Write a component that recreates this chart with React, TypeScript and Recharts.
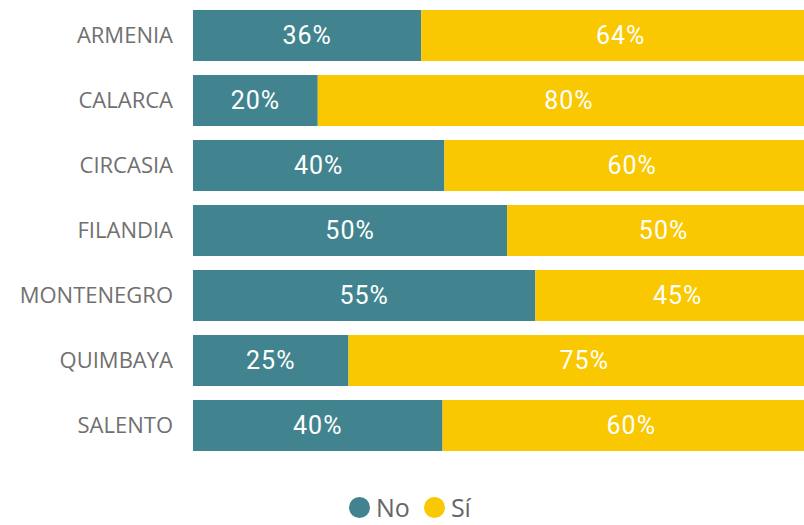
import React from "react";
import { BarChart, Bar, XAxis, YAxis, Legend, LabelList } from "recharts";

const categories = ["ARMENIA", "CALARCA", "CIRCASIA", "FILANDIA", "MONTENEGRO", "QUIMBAYA", "SALENTO"];
const noValues = [36.4, 19.9, 40.1, 50.1, 54.6, 24.8, 39.8];
const siValues = [63.6, 80.1, 59.9, 49.9, 45.4, 75.2, 60.2];
const seriesNames = ["No", "Sí"];
const seriesColors = ["#41848F", "#F9C800"];

const data = categories.map((c, i) => ({ name: c, no: noValues[i], si: siValues[i] }));

const fmt = (v: any) => `${Math.round(Number(v))}%`;

const LegendContent = () => (
  <div style={{ display: "flex", alignItems: "center", paddingLeft: 349, height: 26 }}>
    {seriesNames.map((n, i) => (
      <div key={n} style={{ display: "flex", alignItems: "center", marginRight: 14 }}>
        <span
          style={{
            display: "inline-block",
            width: 21,
            height: 21,
            borderRadius: "50%",
            background: seriesColors[i],
            marginRight: 6,
          }}
        />
        <span style={{ fontFamily: "'Open Sans', sans-serif", fontSize: 25, color: "#666", lineHeight: "26px" }}>{n}</span>
      </div>
    ))}
  </div>
);

export default function App() {
  return (
    <div style={{ position: "absolute", left: 0, top: 0, width: 804, height: 525, overflow: "hidden", background: "#fff" }}>
      <BarChart
        width={830}
        height={525}
        data={data}
        layout="vertical"
        margin={{ top: 3, right: 10, bottom: 41, left: 0 }}
        barSize={51}
      >
        <XAxis type="number" domain={[0, 100]} hide />
        <YAxis
          type="category"
          dataKey="name"
          width={193}
          axisLine={false}
          tickLine={false}
          tickSize={18}
          tick={{ fill: "#707070", fontSize: 22, fontFamily: "'Open Sans', sans-serif" }}
        />
        <Legend
          verticalAlign="bottom"
          content={<LegendContent />}
          wrapperStyle={{ left: 0, top: 494, width: 804, bottom: "auto" }}
        />
        <Bar dataKey="no" name="No" stackId="a" fill={seriesColors[0]} isAnimationActive={false}>
          <LabelList
            dataKey="no"
            position="center"
            formatter={fmt}
            fill="#fff"
            style={{ fontSize: 25, fontFamily: "Roboto, sans-serif", letterSpacing: 1 }}
          />
        </Bar>
        <Bar dataKey="si" name="Sí" stackId="a" fill={seriesColors[1]} isAnimationActive={false}>
          <LabelList
            dataKey="si"
            position="center"
            formatter={fmt}
            fill="#fff"
            style={{ fontSize: 25, fontFamily: "Roboto, sans-serif", letterSpacing: 1 }}
          />
        </Bar>
      </BarChart>
    </div>
  );
}
